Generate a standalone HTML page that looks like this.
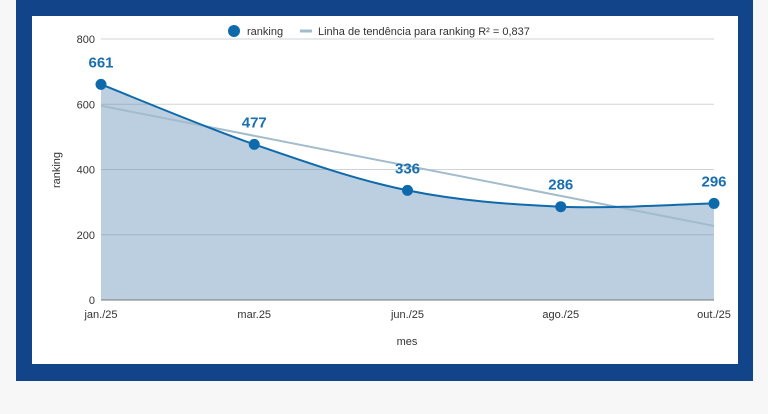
<!DOCTYPE html>
<html><head><meta charset="utf-8"><style>
body{margin:0;width:768px;height:414px;background:#f8f7f8;font-family:"Liberation Sans",sans-serif;overflow:hidden}
#frame{position:absolute;left:16px;top:0;width:737px;height:381px;background:#12448a}
#inner{position:absolute;left:32px;top:16px;width:706px;height:348px;background:#fff}
svg{position:absolute;left:0;top:0}
</style></head><body>
<div id="frame"></div>
<div id="inner"></div>
<svg id="chart" width="768" height="414"></svg>
<script>
const categories=["jan./25","mar.25","jun./25","ago./25","out./25"];
const values=[661,477,336,286,296];
const yTicks=[0,200,400,600,800];
const NS="http://www.w3.org/2000/svg";
const svg=document.getElementById('chart');
const X0=101,X1=714,Y0=300,Y1=39;
const x=i=>X0+(X1-X0)*i/(categories.length-1);
const y=v=>Y0-(Y0-Y1)*v/800;
function el(t,a,txt){const e=document.createElementNS(NS,t);for(const k in a)e.setAttribute(k,a[k]);if(txt!=null)e.textContent=txt;svg.appendChild(e);return e;}
// smooth path (catmull-rom)
const pts=values.map((v,i)=>[x(i),y(v)]);
let d='M'+pts[0][0]+','+pts[0][1];
for(let i=0;i<pts.length-1;i++){
 const p0=pts[i-1]||pts[i],p1=pts[i],p2=pts[i+1],p3=pts[i+2]||p2;
 const c1=[p1[0]+(p2[0]-p0[0])/6,p1[1]+(p2[1]-p0[1])/6];
 const c2=[p2[0]-(p3[0]-p1[0])/6,p2[1]-(p3[1]-p1[1])/6];
 d+=` C${c1[0]},${c1[1]} ${c2[0]},${c2[1]} ${p2[0]},${p2[1]}`;
}
const area=el('path',{d:d+` L${X1},${Y0} L${X0},${Y0} Z`,fill:'#bccfe1'});


yTicks.forEach(t=>{
 const g=el('line',{x1:X0,x2:X1,y1:y(t),y2:y(t),stroke:t==0?'#777':'rgba(120,130,140,0.35)','stroke-width':1});
 
 
 const l=el('text',{x:X0-6,y:y(t)+4,'text-anchor':'end','font-size':11,fill:'#333'},t);
 
 
});
// trend line
const n=values.length,mx=(n-1)/2,my=values.reduce((a,b)=>a+b)/n;
let sxy=0,sxx=0;values.forEach((v,i)=>{sxy+=(i-mx)*(v-my);sxx+=(i-mx)**2});
const slope=sxy/sxx,ic=my-slope*mx;
const tr=el('line',{x1:x(0),y1:y(ic),x2:x(n-1),y2:y(ic+slope*(n-1)),stroke:'#a2bccb','stroke-width':2});


const ln=el('path',{d:d,fill:'none',stroke:'#0f6aab','stroke-width':2});


el('line',{x1:X0,x2:X1,y1:Y0,y2:Y0,stroke:'#777','stroke-width':1});
values.forEach((v,i)=>{
 const c=el('circle',{cx:x(i),cy:y(v),r:5.5,fill:'#0f6aab'});
 
 
 const t=el('text',{x:x(i),y:y(v)-17,'text-anchor':'middle','font-size':15,'font-weight':'bold',fill:'#1a6fae'},v);
 
 
 const xl=el('text',{x:x(i),y:318,'text-anchor':'middle','font-size':11,fill:'#333'},categories[i]);
 
 
});
const xt=el('text',{x:407,y:345,'text-anchor':'middle','font-size':11,fill:'#333'},'mes');


const yt=el('text',{x:60,y:170,'text-anchor':'middle','font-size':11,fill:'#333',transform:'rotate(-90 60 170)'},'ranking');


const lc=el('circle',{cx:234,cy:31,r:6,fill:'#0f6aab'});


const lt=el('text',{x:247,y:35,'font-size':11,fill:'#333'},'ranking');


const lm=el('line',{x1:300,x2:312,y1:31,y2:31,stroke:'#a2bccb','stroke-width':3});


const lt2=el('text',{x:318,y:35,'font-size':11,fill:'#333'},'Linha de tendência para ranking R² = 0,837');


</script>
</body></html>
